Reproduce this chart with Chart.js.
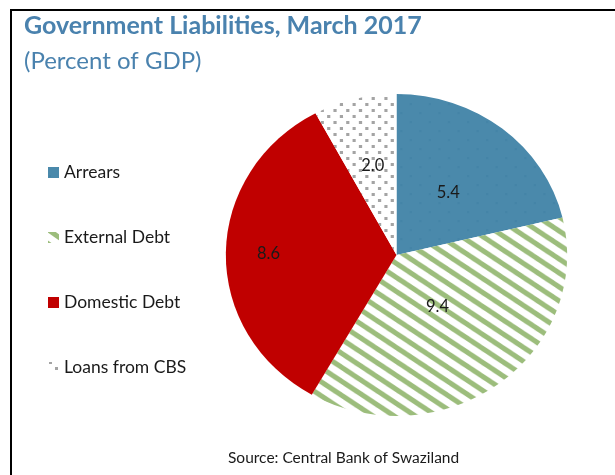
<!DOCTYPE html>
<html>
<head>
<meta charset="utf-8">
<script src="https://cdn.jsdelivr.net/npm/chart.js@4.4.0/dist/chart.umd.min.js"></script>
<style>
  html, body { margin: 0; padding: 0; background: #fff; }
  canvas { display: block; }
</style>
</head>
<body>
<canvas id="chart" width="615" height="475"></canvas>
<script>
// Government liabilities, percent of GDP
const categories = ['Arrears', 'External Debt', 'Domestic Debt', 'Loans from CBS'];
const liabilities = [5.4, 9.4, 8.6, 2.0];

const titleText = 'Government Liabilities, March 2017';
const subtitleText = '(Percent of GDP)';
const sourceText = 'Source: Central Bank of Swaziland';

// how far out along each slice's middle ray its value label sits (share of radius)
const labelDepth = [0.49, 0.4, 0.75, 0.57];

const BLUE = '#4a89ab';
const GREEN = '#9cbd7c';
const RED = '#c00000';
const DOT = '#a4a4a4';
const HEAD = '#4a82ae';
const FONT = 'Lato, "Open Sans", sans-serif';
const STRETCH = 1.06; // pie is a touch wider than tall

const ctx = document.getElementById('chart').getContext('2d');

function makeTile(w, h, paint) {
    const c = document.createElement('canvas');
    c.width = w;
    c.height = h;
    paint(c.getContext('2d'), w, h);
    return ctx.createPattern(c, 'repeat');
}

// fills: faint-dotted blue, green diagonal stripes, grey dots
const bluePattern = makeTile(18, 18, (g, w, h) => {
    g.fillStyle = BLUE;
    g.fillRect(0, 0, w, h);
    g.fillStyle = '#4484a7';
    g.fillRect(4, 4, 2, 2);
    g.fillRect(13, 13, 2, 2);
});
const stripePattern = makeTile(20, 14, (g, w, h) => {
    g.fillStyle = '#fff';
    g.fillRect(0, 0, w, h);
    g.strokeStyle = GREEN;
    g.lineWidth = 5;
    for (let k = -1; k <= 1; k++) {
        g.beginPath();
        g.moveTo(-w, k * h - h);
        g.lineTo(2 * w, k * h + 2 * h);
        g.stroke();
    }
});
const dotPattern = makeTile(12, 12, (g, w, h) => {
    g.fillStyle = '#fff';
    g.fillRect(0, 0, w, h);
    g.fillStyle = DOT;
    g.fillRect(1, 1, 3, 3);
    g.fillRect(7, 7, 3, 3);
});
const fills = [bluePattern, stripePattern, RED, dotPattern];

// widen the pie slightly around its centre while the arcs are drawn
const ellipsePlugin = {
    id: 'ellipse',
    beforeDatasetsDraw(chart) {
        const arc = chart.getDatasetMeta(0).data[0];
        const c = chart.ctx;
        c.save();
        c.translate(arc.x, arc.y);
        c.scale(STRETCH, 1);
        c.translate(-arc.x, -arc.y);
    },
    afterDatasetsDraw(chart) {
        chart.ctx.restore();
    }
};

// value labels inside the slices
const valueLabels = {
    id: 'valueLabels',
    afterDatasetsDraw(chart) {
        const c = chart.ctx;
        const ds = chart.data.datasets[0];
        c.save();
        c.font = '16.5px ' + FONT;
        c.fillStyle = '#1a1a1a';
        c.textAlign = 'center';
        c.textBaseline = 'middle';
        chart.getDatasetMeta(0).data.forEach((arc, i) => {
            const mid = (arc.startAngle + arc.endAngle) / 2;
            const r = arc.outerRadius * labelDepth[i];
            const x = arc.x + STRETCH * r * Math.cos(mid);
            const y = arc.y + r * Math.sin(mid);
            c.fillText(ds.data[i].toFixed(1), x, y);
        });
        c.restore();
    }
};

// frame, headings, legend and source line
const decorations = {
    id: 'decorations',
    afterDraw(chart) {
        const c = chart.ctx;
        const ds = chart.data.datasets[0];
        c.save();
        c.fillStyle = '#000';
        c.fillRect(10, 9, 605, 2);
        c.fillRect(10, 9, 2, 466);

        c.textAlign = 'left';
        c.textBaseline = 'alphabetic';
        c.fillStyle = HEAD;
        c.font = 'bold 25px ' + FONT;
        c.fillText(titleText, 24, 34);
        c.font = '24px ' + FONT;
        c.fillText(subtitleText, 24, 69);

        c.font = '17.5px ' + FONT;
        c.textBaseline = 'middle';
        chart.data.labels.forEach((label, i) => {
            const y = 172.5 + i * 65;
            c.fillStyle = ds.backgroundColor[i];
            c.fillRect(48, y - 5.5, 11, 11);
            c.fillStyle = '#1a1a1a';
            c.fillText(label, 64, y);
        });

        c.font = '15.5px ' + FONT;
        c.textBaseline = 'alphabetic';
        c.fillText(sourceText, 228, 463);
        c.restore();
    }
};

new Chart(ctx, {
    type: 'pie',
    data: {
        labels: categories,
        datasets: [{
            data: liabilities,
            backgroundColor: fills,
            borderWidth: 0,
            radius: 161
        }]
    },
    options: {
        responsive: false,
        animation: false,
        layout: {
            padding: { left: 226, right: 48, top: 94, bottom: 59 }
        },
        plugins: {
            legend: { display: false },
            tooltip: { enabled: false }
        }
    },
    plugins: [ellipsePlugin, valueLabels, decorations]
});
</script>
</body>
</html>
